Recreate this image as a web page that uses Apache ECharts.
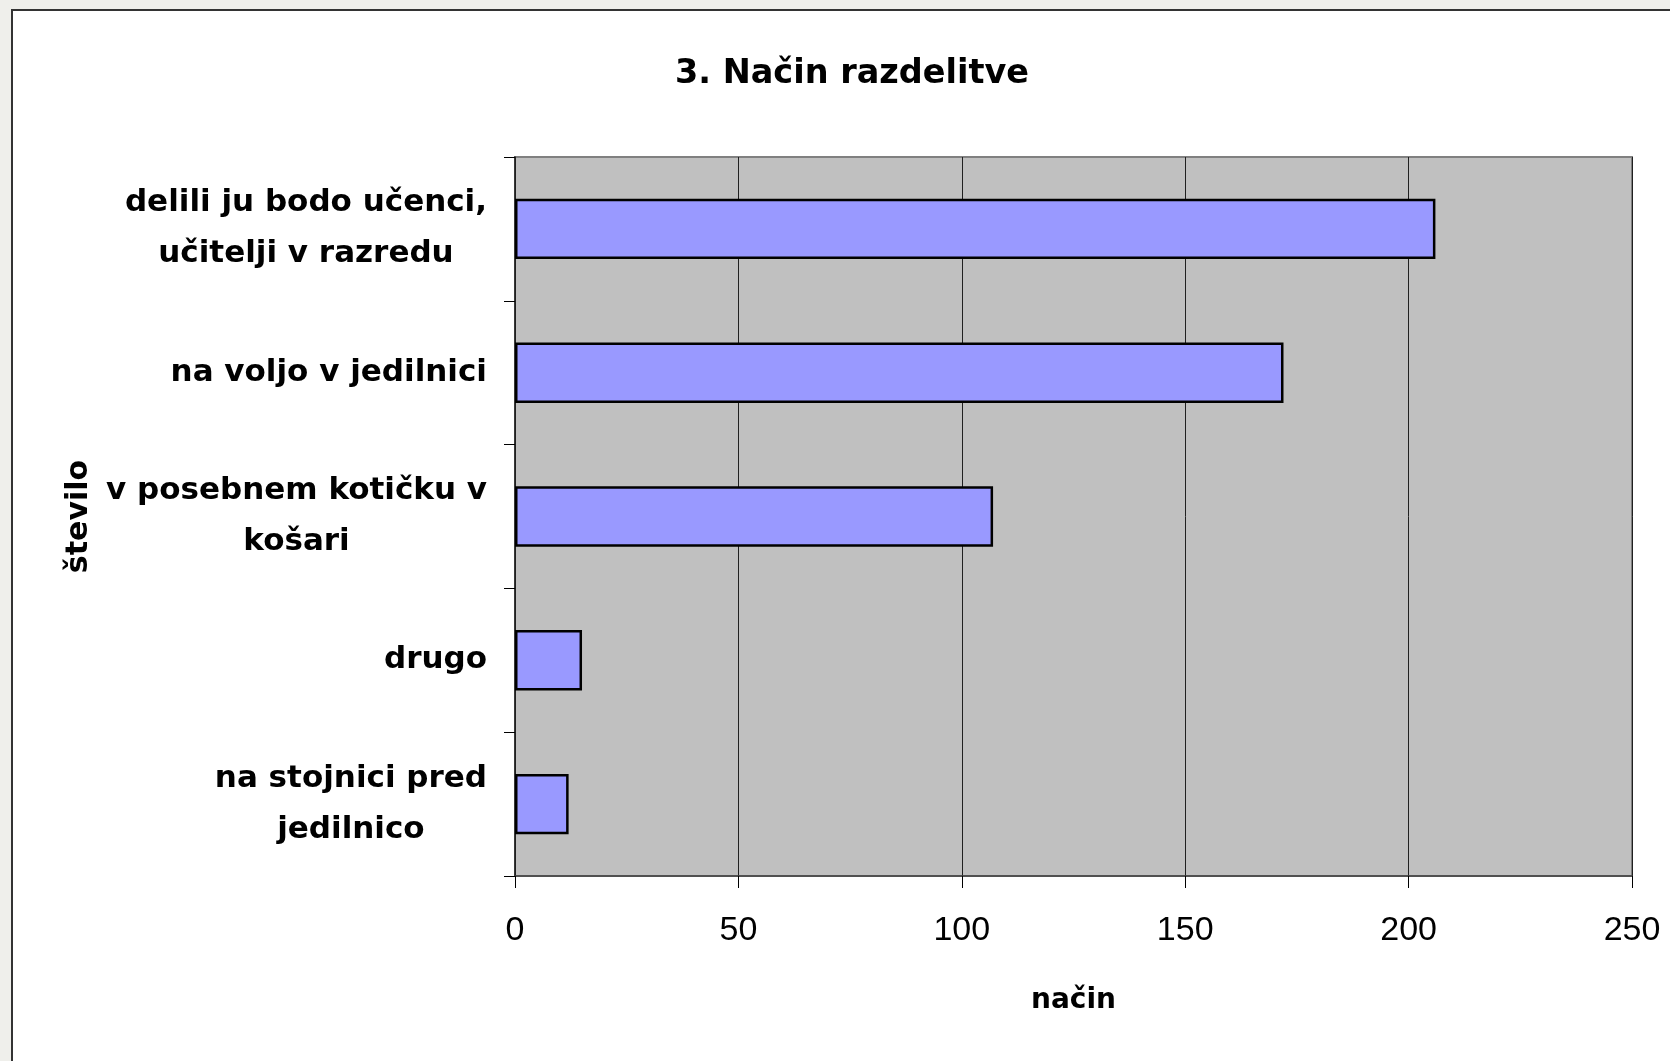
<!DOCTYPE html>
<html>
<head>
<meta charset="utf-8">
<title>3. Način razdelitve</title>
<script src="https://cdn.jsdelivr.net/npm/echarts@6/dist/echarts.min.js"></script>
<style>
  html, body { margin: 0; padding: 0; width: 1670px; height: 1061px; overflow: hidden; background: #efefeb; }
  #frame { position: absolute; left: 11px; top: 9px; width: 1700px; height: 1100px; background: #ffffff; border-left: 2px solid #333; border-top: 2px solid #333; }
  #chart { position: absolute; left: 0; top: 0; width: 1670px; height: 1061px; }
</style>
</head>
<body>
<div id="frame"></div>
<div id="chart"></div>
<script>
// Answer categories (top to bottom) and how many chose each
const categories = [
  'delili ju bodo učenci,\nučitelji v razredu',
  'na voljo v jedilnici',
  'v posebnem kotičku v\nkošari',
  'drugo',
  'na stojnici pred\njedilnico'
];
const counts = [206, 172, 107, 15, 12];

const titleText = '3. Način razdelitve';
const xAxisName = 'način';
const yAxisName = 'število';
const xMin = 0, xMax = 250, xStep = 50;

const boldFont = '"DejaVu Sans", "Liberation Sans", Arial, sans-serif';
const plainFont = '"Liberation Sans", Arial, sans-serif';

const chart = echarts.init(document.getElementById('chart'), null, { renderer: 'canvas' });

chart.setOption({
  backgroundColor: 'transparent',
  animation: false,
  title: {
    text: titleText,
    left: 847,
    textAlign: 'center',
    top: 52,
    textStyle: { fontFamily: boldFont, fontWeight: 'bold', fontSize: 33.5, color: '#000' }
  },
  grid: {
    left: 515, right: 38, top: 157, bottom: 185,
    show: true,
    backgroundColor: '#c0c0c0',
    borderColor: '#808080',
    borderWidth: 2
  },
  xAxis: {
    type: 'value',
    min: xMin, max: xMax, interval: xStep,
    name: xAxisName,
    nameLocation: 'middle',
    nameGap: 111,
    nameTextStyle: { fontFamily: boldFont, fontWeight: 'bold', fontSize: 28, color: '#000' },
    axisLine: { show: true, lineStyle: { color: '#404040', width: 1.5 } },
    axisTick: { show: true, length: 12, lineStyle: { color: '#000', width: 1 } },
    axisLabel: { margin: 38, fontFamily: plainFont, fontSize: 34, color: '#000' },
    splitLine: { show: true, lineStyle: { color: '#202020', width: 1 } }
  },
  yAxis: {
    type: 'category',
    data: categories,
    inverse: true,
    name: yAxisName,
    nameLocation: 'middle',
    nameRotate: 90,
    nameGap: 421,
    nameTextStyle: { fontFamily: boldFont, fontWeight: 'bold', fontSize: 30, color: '#000' },
    axisLine: { show: true, lineStyle: { color: '#202020', width: 1.5 } },
    axisTick: { show: true, length: 11, lineStyle: { color: '#000', width: 1 } },
    axisLabel: {
      margin: 28,
      align: 'right',
      // each line of a wrapped label is centred within its block
      formatter: function (value) {
        return value.split('\n').map(function (line) { return '{c|' + line + '}'; }).join('\n');
      },
      rich: {
        c: {
          fontFamily: boldFont, fontWeight: 'bold', fontSize: 31, lineHeight: 51,
          color: '#000', align: 'center'
        }
      }
    },
    splitLine: { show: false }
  },
  series: [{
    type: 'bar',
    data: counts,
    barCategoryGap: '58%',
    itemStyle: { color: '#9999ff', borderColor: '#000', borderWidth: 2.5 },
    silent: true
  }]
});
</script>
</body>
</html>
